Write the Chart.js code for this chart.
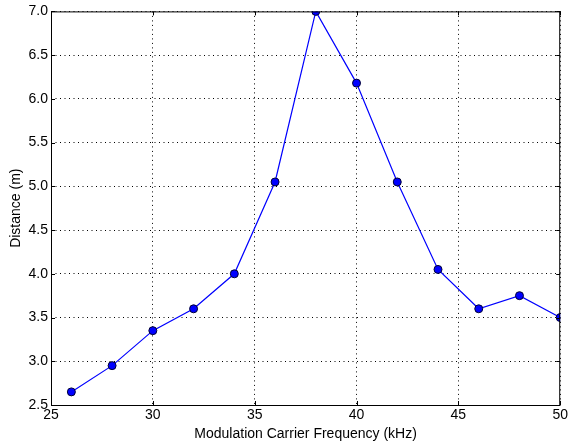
<!DOCTYPE html>
<html>
<head>
<meta charset="utf-8">
<script src="https://cdn.jsdelivr.net/npm/chart.js@4/dist/chart.umd.min.js"></script>
<style>
  html, body { margin: 0; padding: 0; background: #fff; }
  #wrap { width: 570px; height: 448px; position: relative; }
</style>
</head>
<body>
<div id="wrap"><canvas id="chart"></canvas></div>
<script>
// Data
const frequencies = [26, 28, 30, 32, 34, 36, 38, 40, 42, 44, 46, 48, 50];
const distances = [2.65, 2.95, 3.35, 3.6, 4.0, 5.05, 7.0, 6.18, 5.05, 4.05, 3.6, 3.75, 3.5];

const xTitle = "Modulation Carrier Frequency (kHz)";
const yTitle = "Distance (m)";

// inward tick marks on all four sides, like matplotlib
const innerTicks = {
  id: "innerTicks",
  afterDraw(chart) {
    const { ctx, chartArea: a, scales } = chart;
    const len = 4;
    ctx.save();
    ctx.strokeStyle = "#000";
    ctx.lineWidth = 1;
    ctx.beginPath();
    scales.x.ticks.forEach(t => {
      const px = Math.round(scales.x.getPixelForValue(t.value)) + 0.5;
      ctx.moveTo(px, a.bottom); ctx.lineTo(px, a.bottom - len);
      ctx.moveTo(px, a.top); ctx.lineTo(px, a.top + len);
    });
    scales.y.ticks.forEach(t => {
      const py = Math.round(scales.y.getPixelForValue(t.value)) + 0.5;
      ctx.moveTo(a.left, py); ctx.lineTo(a.left + len, py);
      ctx.moveTo(a.right, py); ctx.lineTo(a.right - len, py);
    });
    ctx.stroke();
    ctx.strokeRect(a.left + 0.5, a.top + 0.5, a.right - a.left - 1, a.bottom - a.top);
    ctx.restore();
  }
};

const font = { family: "'Liberation Sans', Arial, sans-serif", size: 14 };

new Chart(document.getElementById("chart"), {
  type: "line",
  data: {
    datasets: [{
      data: frequencies.map((f, i) => ({ x: f, y: distances[i] })),
      borderColor: "#0000ff",
      borderWidth: 1.2,
      backgroundColor: "#0000ff",
      pointRadius: 4,
      pointBorderColor: "#000033",
      pointBorderWidth: 1,
      tension: 0,
      clip: 0,
    }]
  },
  options: {
    responsive: true,
    maintainAspectRatio: false,
    animation: false,
    layout: { padding: { top: 10, right: 9, left: 0, bottom: 0 } },
    plugins: { legend: { display: false }, tooltip: { enabled: false } },
    scales: {
      x: {
        type: "linear",
        min: 25, max: 50,
        ticks: { stepSize: 5, color: "#000", font, padding: 2 },
        grid: { color: "#000", lineWidth: 1, tickLength: 0, drawTicks: false },
        border: { display: false, dash: [1, 3.5] },
        title: { display: true, text: xTitle, color: "#000", font, padding: { top: 0, bottom: 5 } },
        afterFit: s => { s.height = 43; }
      },
      y: {
        min: 2.5, max: 7.0,
        ticks: { stepSize: 0.5, color: "#000", font, padding: 3, callback: v => v.toFixed(1) },
        grid: { color: "#000", lineWidth: 1, tickLength: 0, drawTicks: false },
        border: { display: false, dash: [1, 3.5] },
        title: { display: true, text: yTitle, color: "#000", font, padding: { top: 8, bottom: 0 } },
        afterFit: s => { s.width = 51; }
      }
    }
  },
  plugins: [innerTicks]
});
</script>
</body>
</html>
